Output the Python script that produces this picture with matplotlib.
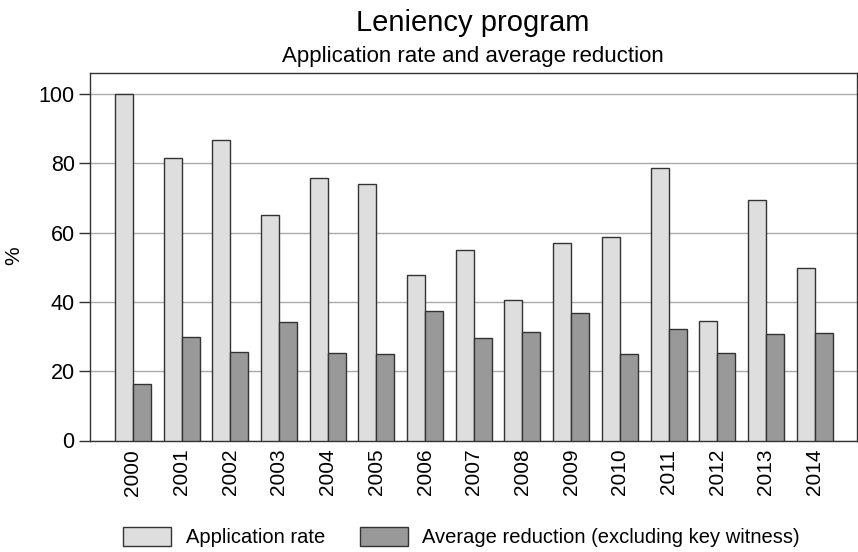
import numpy as np
import matplotlib
matplotlib.use('Agg')
import matplotlib.pyplot as plt

plt.rcParams['font.family'] = ['Liberation Sans', 'DejaVu Sans']

years = ['2000', '2001', '2002', '2003', '2004', '2005', '2006', '2007',
         '2008', '2009', '2010', '2011', '2012', '2013', '2014']
application_rate = [100.0, 81.5, 86.7, 65.0, 75.7, 74.1, 47.7, 55.1,
                    40.6, 57.1, 58.7, 78.5, 34.4, 69.5, 49.9]
avg_reduction = [16.3, 30.0, 25.5, 34.3, 25.2, 25.0, 37.3, 29.6,
                 31.3, 36.9, 25.0, 32.3, 25.2, 30.6, 30.9]


def main():
    fig = plt.figure(figsize=(8.58, 5.52), dpi=100)
    ax = fig.add_axes([90 / 858, 1 - 440.5 / 552, 767 / 858, 368 / 552])

    x = np.arange(len(years))
    w = 0.37
    ax.bar(x - w / 2, application_rate, w, color='#dedede', edgecolor='#333333',
           linewidth=1.0, label='Application rate', zorder=3)
    ax.bar(x + w / 2, avg_reduction, w, color='#999999', edgecolor='#333333',
           linewidth=1.0, label='Average reduction (excluding key witness)', zorder=3)

    ax.set_xlim(-0.88, 14.87)
    ax.set_ylim(0, 106.2)
    ax.set_yticks([0, 20, 40, 60, 80, 100])
    ax.yaxis.grid(True, color='#aaaaaa', linewidth=1.0, zorder=0)
    ax.set_xticks(x)
    ax.set_xticklabels(years, rotation=90, fontsize=15)
    ax.tick_params(axis='x', length=0, pad=6)
    ax.tick_params(axis='y', length=8, width=1, labelsize=15.5, color='#333333', pad=3)
    for s in ax.spines.values():
        s.set_color('#333333')
        s.set_linewidth(1.0)

    fig.text(14 / 858, 1 - 256 / 552, '%', rotation=90, ha='center', va='center', fontsize=15)
    fig.text(0.551, 1 - 31 / 552, 'Leniency program', ha='center', va='baseline', fontsize=21)
    fig.text(0.551, 1 - 62 / 552, 'Application rate and average reduction', ha='center',
             va='baseline', fontsize=16)

    fig.legend(loc='center', bbox_to_anchor=(0.538, 1 - 537 / 552), ncol=2, frameon=False,
               fontsize=14.5, handlelength=2.4, handleheight=1.1, handletextpad=0.7,
               columnspacing=1.75)

    fig.savefig('out.png', dpi=100)


if __name__ == '__main__':
    main()
